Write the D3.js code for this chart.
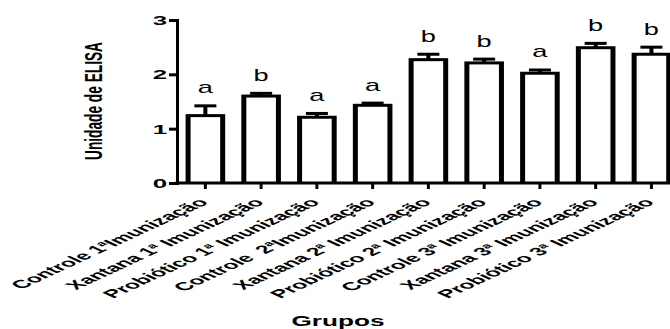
<!DOCTYPE html>
<html><head><meta charset="utf-8">
<script src="https://cdn.jsdelivr.net/npm/d3@7"></script>
<style>
html,body{margin:0;padding:0;background:#fff;}
svg{display:block;font-family:"Liberation Sans",Arial,sans-serif;}
</style></head>
<body>
<svg id="chart" width="670" height="329"></svg>
<script>
const categories = [
  "Controle 1ªImunização",
  "Xantana 1ª Imunização",
  "Probiótico 1ª Imunização",
  "Controle  2ªImunização",
  "Xantana 2ª Imunização",
  "Probiótico 2ª Imunização",
  "Controle 3ª Imunização",
  "Xantana 3ª Imunização",
  "Probiótico 3ª Imunização"
];
const means = [1.24, 1.60, 1.21, 1.43, 2.27, 2.21, 2.02, 2.49, 2.37];
const sems  = [0.18, 0.05, 0.07, 0.04, 0.10, 0.07, 0.06, 0.08, 0.13];
const letters = ["a", "b", "a", "a", "b", "b", "a", "b", "b"];
const yTicks = [0, 1, 2, 3];
const yTitle = "Unidade de ELISA";
const xTitle = "Grupos";

const svg = d3.select("#chart");
const x = d3.scaleBand().domain(categories).range([177.5, 679.3]).paddingInner(0.29).paddingOuter(0.145);
const y = d3.scaleLinear().domain([0, 3]).range([183, 20]);
const bw = x.bandwidth();
const data = categories.map((c, i) => ({c, m: means[i], s: sems[i], l: letters[i]}));

// bars: black outer + white inner to mimic thick stretched strokes
const bars = svg.append("g");
bars.selectAll("rect.o").data(data).join("rect").attr("class", "o")
  .attr("x", d => x(d.c)).attr("width", bw)
  .attr("y", d => y(d.m) - 1.5).attr("height", d => y(0) - y(d.m) + 1.5)
  .attr("fill", "#000");
bars.selectAll("rect.i").data(data).join("rect").attr("class", "i")
  .attr("x", d => x(d.c) + 5).attr("width", bw - 10)
  .attr("y", d => y(d.m) + 1.5).attr("height", d => y(0) - y(d.m) - 1.5)
  .attr("fill", "#fff");
// error bars
bars.selectAll("rect.e").data(data).join("rect").attr("class", "e")
  .attr("x", d => x(d.c) + bw / 2 - 2).attr("width", 4)
  .attr("y", d => y(d.m + d.s)).attr("height", d => y(d.m) - y(d.m + d.s))
  .attr("fill", "#000");
bars.selectAll("rect.c").data(data).join("rect").attr("class", "c")
  .attr("x", d => x(d.c) + bw / 2 - 11).attr("width", 22)
  .attr("y", d => y(d.m + d.s) - 1.5).attr("height", 3)
  .attr("fill", "#000");
// significance letters
bars.selectAll("text.l").data(data).join("text").attr("class", "l")
  .attr("transform", d => `translate(${x(d.c) + bw / 2},${y(d.m + d.s) - 12.5}) scale(1.7,1)`)
  .attr("text-anchor", "middle").attr("font-size", 16).attr("fill", "#000")
  .text(d => d.l);

// y axis
const ya = svg.append("g").attr("transform", "translate(177,0)")
  .call(d3.axisLeft(y).tickValues(yTicks).tickFormat(d3.format("d")).tickSize(8).tickSizeOuter(0));
ya.select(".domain").attr("stroke", "#000").attr("stroke-width", 3).attr("stroke-linecap", "square");
ya.selectAll(".tick line").attr("stroke", "#000").attr("stroke-width", 3);
ya.selectAll(".tick text").attr("x", null).attr("dy", "0.36em")
  .attr("transform", "translate(-10,0) scale(2.05,1)")
  .attr("font-size", 12.6).attr("font-weight", "bold").attr("fill", "#000")
  .attr("font-family", "Liberation Sans, Arial, sans-serif");

// x axis
const xa = svg.append("g").attr("transform", "translate(0,183)")
  .call(d3.axisBottom(x).tickSize(6).tickSizeOuter(0));
xa.select(".domain").attr("stroke", "#000").attr("stroke-width", 3).attr("d", "M175.5,0H680");
xa.selectAll(".tick line").attr("stroke", "#000").attr("stroke-width", 3);
xa.selectAll(".tick text").attr("y", null).attr("dy", null)
  .style("white-space", "pre")
  .attr("text-anchor", "end")
  .attr("transform", "translate(4,20) scale(2.17,1) rotate(-45)")
  .attr("font-size", 11.4).attr("font-weight", "bold").attr("fill", "#000")
  .attr("font-family", "Liberation Sans, Arial, sans-serif");

// titles
svg.append("text").attr("transform", "translate(102,101) scale(1.8,1) rotate(-90)")
  .attr("text-anchor", "middle").attr("font-size", 13.7).attr("font-weight", "bold").attr("fill", "#000")
  .text(yTitle);
svg.append("text").attr("transform", "translate(338,326) scale(1.7,1)")
  .attr("text-anchor", "middle").attr("font-size", 15.4).attr("font-weight", "bold").attr("fill", "#000")
  .text(xTitle);
</script>
</body></html>
